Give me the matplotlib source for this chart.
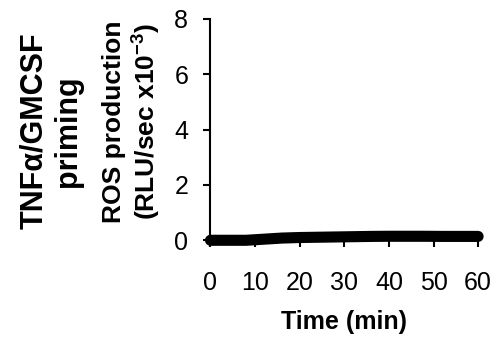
import matplotlib
matplotlib.use("Agg")
import matplotlib.pyplot as plt

plt.rcParams['font.family'] = ['Liberation Sans', 'DejaVu Sans']

time_min = [0, 2, 4, 6, 8, 10, 12, 14, 16, 18, 20, 24, 28, 32, 36, 40, 44, 48, 52, 56, 60]
ros = [0.0, 0.0, 0.0, 0.0, 0.0, 0.02, 0.04, 0.06, 0.08, 0.09, 0.10, 0.11, 0.12, 0.13, 0.14, 0.145, 0.145, 0.145, 0.14, 0.14, 0.14]
x_ticks = [0, 10, 20, 30, 40, 50, 60]
y_ticks = [0, 2, 4, 6, 8]

fig = plt.figure(figsize=(4.97, 3.44), dpi=100)
ax = fig.add_axes([0.4235, 0.3015, 0.5385, 0.6433])
ax.plot(time_min, ros, color='black', linewidth=8, solid_capstyle='round',
        solid_joinstyle='round', clip_on=False, zorder=5)
ax.set_xlim(0, 60)
ax.set_ylim(0, 8)
ax.set_xticks(x_ticks)
ax.set_yticks(y_ticks)
ax.spines['top'].set_visible(False)
ax.spines['right'].set_visible(False)
ax.spines['left'].set_linewidth(1.5)
ax.spines['bottom'].set_linewidth(1.5)
ax.tick_params(axis='x', direction='out', length=5, width=1.5, labelsize=18, pad=17)
ax.tick_params(axis='y', direction='out', length=5, width=1.5, labelsize=18, pad=11)
ax.set_xlabel('Time (min)', fontsize=18, fontweight='bold', labelpad=11)
ax.set_ylabel('ROS production\n(RLU/sec x10$^{\\mathregular{-3}}$)', fontsize=19,
              fontweight='bold', linespacing=1.15)
ax.yaxis.set_label_coords(-0.18, 0.536)
fig.text(0.103, 0.619, 'TNFα/GMCSF\npriming', rotation=90, fontsize=22,
         fontweight='bold', ha='center', va='center', linespacing=1.2)
fig.savefig('out.png', dpi=100)
